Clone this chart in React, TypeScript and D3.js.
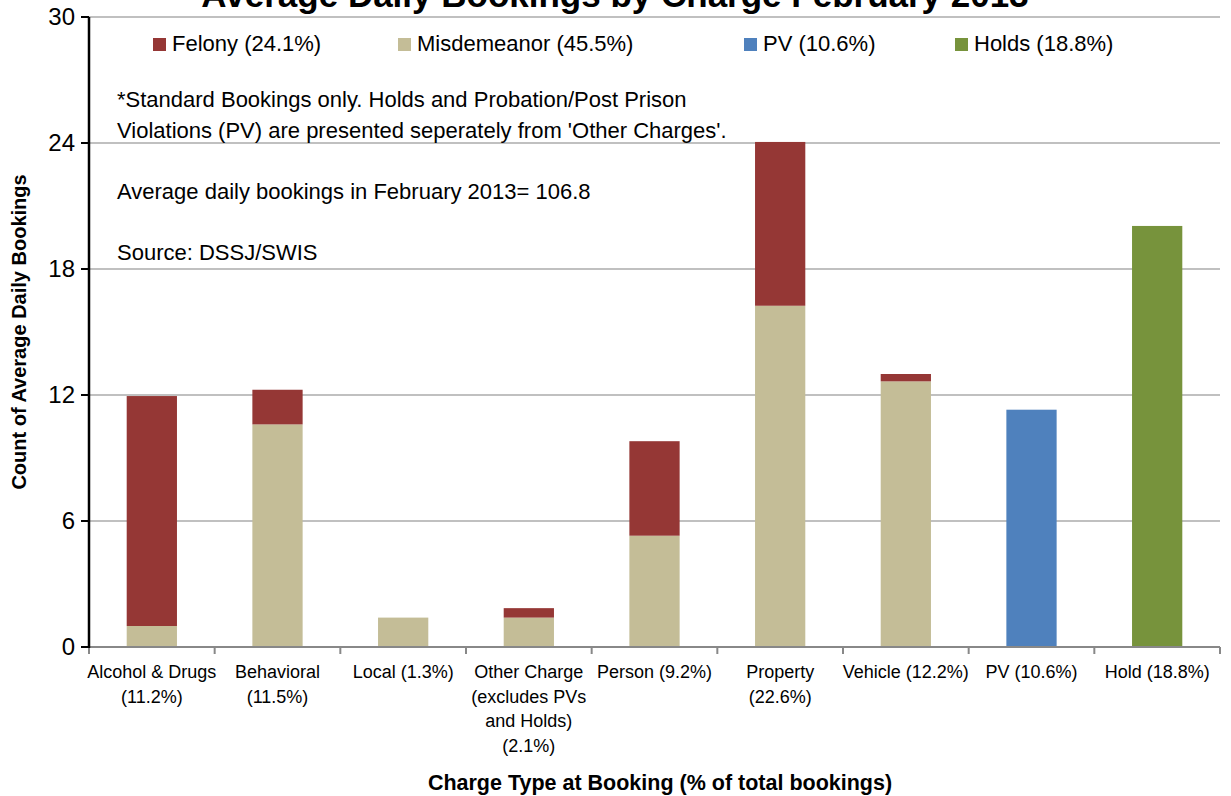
import React, { useEffect } from 'react';
import * as d3 from 'd3';

const categories = [
  'Alcohol & Drugs',
  'Behavioral',
  'Local',
  'Other Charge',
  'Person',
  'Property',
  'Vehicle',
  'PV',
  'Hold',
];

const categoryLabels: string[][] = [
  ['Alcohol & Drugs', '(11.2%)'],
  ['Behavioral', '(11.5%)'],
  ['Local (1.3%)'],
  ['Other Charge', '(excludes PVs', 'and Holds)', '(2.1%)'],
  ['Person (9.2%)'],
  ['Property', '(22.6%)'],
  ['Vehicle (12.2%)'],
  ['PV (10.6%)'],
  ['Hold (18.8%)'],
];

const misdemeanor = [1.0, 10.6, 1.4, 1.4, 5.3, 16.25, 12.65, 0, 0];
const felony = [10.95, 1.65, 0, 0.45, 4.5, 7.8, 0.35, 0, 0];
const pv = [0, 0, 0, 0, 0, 0, 0, 11.3, 0];
const holds = [0, 0, 0, 0, 0, 0, 0, 0, 20.05];

const seriesNames = ['Misdemeanor', 'Felony', 'PV', 'Holds'];
const legendLabels = ['Felony (24.1%)', 'Misdemeanor (45.5%)', 'PV (10.6%)', 'Holds (18.8%)'];
const legendKeys = ['Felony', 'Misdemeanor', 'PV', 'Holds'];
const yTicks = [0, 6, 12, 18, 24, 30];

const notes = [
  "*Standard Bookings only. Holds and Probation/Post Prison",
  "Violations (PV) are presented seperately from 'Other Charges'.",
  '',
  'Average daily bookings in February 2013= 106.8',
  '',
  'Source: DSSJ/SWIS',
];

const COLORS: Record<string, string> = {
  Felony: '#953735',
  Misdemeanor: '#c4bd97',
  PV: '#4f81bd',
  Holds: '#77933c',
};

const NARROW = '"Liberation Sans Narrow", "Arial Narrow", "Liberation Sans", Arial, sans-serif';
const REG = '"Liberation Sans", Arial, sans-serif';

const W = 1231;
const H = 796;
const margin = { top: 17, right: 11, bottom: 149, left: 89 };

export default function App() {
  useEffect(() => {
    document.body.style.margin = '0';
  }, []);

  const innerW = W - margin.left - margin.right;
  const innerH = H - margin.top - margin.bottom;

  const x = d3.scaleBand().domain(categories).range([0, innerW]).paddingInner(0.6).paddingOuter(0.3);
  const y = d3.scaleLinear().domain([0, 30]).range([innerH, 0]);

  const table = categories.map((c, i) => ({
    cat: c,
    Misdemeanor: misdemeanor[i],
    Felony: felony[i],
    PV: pv[i],
    Holds: holds[i],
  }));
  const stacked = d3.stack<any>().keys(seriesNames)(table);

  const step = x.step();
  const boundaries = d3.range(categories.length + 1).map((i) => i * step);

  const legendX = [153, 398, 744, 955];

  return (
    <svg width={W} height={H} style={{ display: 'block', background: '#fff' }}>
      <text
        x={615}
        y={7}
        textAnchor="middle"
        fontFamily={NARROW}
        fontWeight="bold"
        fontSize={35}
        fill="#000"
      >
        Average Daily Bookings by Charge February 2013
      </text>
      <g transform={`translate(${margin.left},${margin.top})`}>
        {yTicks.map((t) => (
          <line key={t} x1={0} x2={innerW} y1={y(t)} y2={y(t)} stroke="#c0c0c0" strokeWidth={2} />
        ))}
        {stacked.map((s) =>
          s.map((d, i) =>
            d[1] - d[0] > 0 ? (
              <rect
                key={s.key + i}
                x={x(categories[i])}
                y={y(d[1])}
                width={x.bandwidth()}
                height={y(d[0]) - y(d[1])}
                fill={COLORS[s.key]}
              />
            ) : null
          )
        )}
        {/* x axis */}
        <line x1={0} x2={innerW} y1={innerH} y2={innerH} stroke="#888" strokeWidth={2} />
        {boundaries.map((b, i) => (
          <line key={i} x1={b} x2={b} y1={innerH} y2={innerH + 7} stroke="#888" strokeWidth={2} />
        ))}
        {categoryLabels.map((lines, i) => (
          <text
            key={i}
            x={(x(categories[i]) ?? 0) + x.bandwidth() / 2}
            y={innerH + 31}
            textAnchor="middle"
            fontFamily={NARROW}
            fontSize={18}
            fill="#000"
          >
            {lines.map((l, j) => (
              <tspan key={j} x={(x(categories[i]) ?? 0) + x.bandwidth() / 2} dy={j === 0 ? 0 : 24.5}>
                {l}
              </tspan>
            ))}
          </text>
        ))}
        {/* y axis */}
        <line x1={0} x2={0} y1={0} y2={innerH + 1} stroke="#000" strokeWidth={2.5} />
        {yTicks.map((t) => (
          <g key={t}>
            <line x1={-8} x2={0} y1={y(t)} y2={y(t)} stroke="#000" strokeWidth={2} />
            <text x={-14} y={y(t)} dy="0.35em" textAnchor="end" fontFamily={REG} fontSize={24} fill="#000">
              {t}
            </text>
          </g>
        ))}
        {/* notes */}
        <text x={117 - margin.left} y={107 - margin.top} fontFamily={NARROW} fontSize={22} fill="#000">
          {notes.map((l, j) => (
            <tspan key={j} x={117 - margin.left} dy={j === 0 ? 0 : 30.5}>
              {l || '\u00a0'}
            </tspan>
          ))}
        </text>
      </g>
      {/* legend */}
      {legendKeys.map((k, i) => (
        <g key={k} transform={`translate(${legendX[i]},38)`}>
          <rect width={13} height={13} fill={COLORS[k]} />
          <text x={19} y={13} fontFamily={NARROW} fontSize={22} fill="#000">
            {legendLabels[i]}
          </text>
        </g>
      ))}
      <text
        x={660}
        y={790}
        textAnchor="middle"
        fontFamily={NARROW}
        fontWeight="bold"
        fontSize={21.5}
        fill="#000"
      >
        Charge Type at Booking (% of total bookings)
      </text>
      <text
        transform={`translate(26,332) rotate(-90)`}
        textAnchor="middle"
        fontFamily={NARROW}
        fontWeight="bold"
        fontSize={20}
        fill="#000"
      >
        Count of Average Daily Bookings
      </text>
    </svg>
  );
}
